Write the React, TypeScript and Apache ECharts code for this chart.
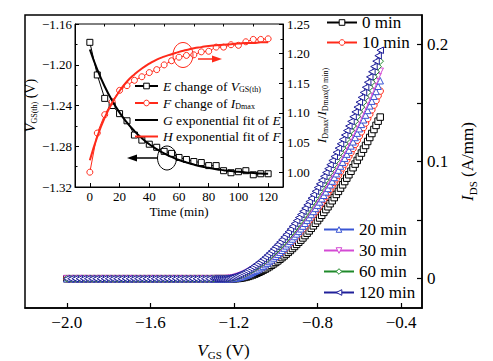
import React, { useEffect, useRef } from "react";
import * as echarts from "echarts";

const FONT = '"Liberation Serif", "Times New Roman", serif';

// ---------- main plot data: I_DS (A/mm) versus V_GS (V) ----------
// flat (off) region, shared by all curves
const vgsFlat = [
  -2.0, -1.98, -1.96, -1.94, -1.92, -1.9, -1.88, -1.86, -1.84, -1.82,
  -1.8, -1.78, -1.76, -1.74, -1.72, -1.7, -1.68, -1.66, -1.64, -1.62,
  -1.6, -1.58, -1.56, -1.54, -1.52, -1.5, -1.48, -1.46, -1.44, -1.42,
  -1.4, -1.38, -1.36, -1.34, -1.32, -1.3,
];
const idsFlat = [
  0, 0, 0, 0, 0, 0, 0, 0, 0, 0,
  0, 0, 0, 0, 0, 0, 0, 0, 0, 0,
  0, 0, 0, 0, 0, 0, 0, 0, 0, 0,
  0, 0, 0, 0, 0, 0,
];
// turn-on region
const vgsRise = [
  -1.29, -1.28, -1.27, -1.26, -1.25, -1.24, -1.23, -1.22, -1.21, -1.2,
  -1.19, -1.18, -1.17, -1.16, -1.15, -1.14, -1.13, -1.12, -1.11, -1.1,
  -1.09, -1.08, -1.07, -1.06, -1.05, -1.04, -1.03, -1.02, -1.01, -1.0,
  -0.99, -0.98, -0.97, -0.96, -0.95, -0.94, -0.93, -0.92, -0.91, -0.9,
  -0.89, -0.88, -0.87, -0.86, -0.85, -0.84, -0.83, -0.82, -0.81, -0.8,
  -0.79, -0.78, -0.77, -0.76, -0.75, -0.74, -0.73, -0.72, -0.71, -0.7,
  -0.69, -0.68, -0.67, -0.66, -0.65, -0.64, -0.63, -0.62, -0.61, -0.6,
  -0.59, -0.58, -0.57, -0.56, -0.55, -0.54, -0.53, -0.52, -0.51, -0.5,
];

const rise0min = [
  0, 0, 0, 0, 0, 0, 0, 0, 0, 0,
  0.0001, 0.0002, 0.0004, 0.0007, 0.0011, 0.0015, 0.002, 0.0026, 0.0032, 0.0039,
  0.0047, 0.0055, 0.0063, 0.0073, 0.0082, 0.0093, 0.0103, 0.0115, 0.0127, 0.0139,
  0.0152, 0.0166, 0.018, 0.0195, 0.021, 0.0225, 0.0241, 0.0258, 0.0275, 0.0293,
  0.0311, 0.0329, 0.0348, 0.0368, 0.0388, 0.0408, 0.043, 0.0451, 0.0473, 0.0495,
  0.0518, 0.0541, 0.0566, 0.059, 0.0614, 0.064, 0.0665, 0.0692, 0.0719, 0.0745,
  0.0773, 0.0801, 0.0829, 0.0858, 0.0887, 0.0917, 0.0947, 0.0978, 0.1009, 0.104,
  0.1072, 0.1105, 0.1137, 0.1171, 0.1205, 0.1239, 0.1273, 0.1308, 0.1344, 0.1379,
];

const rise10min = [
  0, 0, 0, 0, 0, 0, 0, 0,
  0.0001, 0.0002, 0.0005, 0.0008, 0.0012, 0.0017, 0.0023, 0.0029, 0.0036, 0.0043,
  0.0051, 0.006, 0.007, 0.008, 0.0091, 0.0102, 0.0114, 0.0127, 0.014, 0.0154,
  0.0168, 0.0183, 0.0198, 0.0214, 0.0231, 0.0248, 0.0266, 0.0284, 0.0303, 0.0323,
  0.0343, 0.0363, 0.0384, 0.0406, 0.0427, 0.045, 0.0474, 0.0497, 0.0521, 0.0546,
  0.0571, 0.0597, 0.0623, 0.065, 0.0677, 0.0705, 0.0733, 0.0762, 0.0792, 0.0821,
  0.0852, 0.0882, 0.0914, 0.0945, 0.0978, 0.1011, 0.1044, 0.1077, 0.1111, 0.1146,
  0.1181, 0.1217, 0.1253, 0.129, 0.1328, 0.1366, 0.1403, 0.1441, 0.1481, 0.152,
  0.1561, 0.1601,
];

const rise20min = [
  0, 0, 0, 0, 0, 0, 0, 0,
  0.0001, 0.0002, 0.0005, 0.0008, 0.0013, 0.0018, 0.0024, 0.003, 0.0037, 0.0045,
  0.0054, 0.0063, 0.0073, 0.0084, 0.0095, 0.0107, 0.012, 0.0133, 0.0147, 0.0161,
  0.0177, 0.0192, 0.0208, 0.0225, 0.0243, 0.0261, 0.028, 0.0299, 0.0319, 0.0339,
  0.036, 0.0382, 0.0404, 0.0426, 0.0449, 0.0473, 0.0498, 0.0522, 0.0548, 0.0574,
  0.06, 0.0627, 0.0655, 0.0683, 0.0712, 0.0741, 0.0771, 0.0802, 0.0833, 0.0864,
  0.0896, 0.0927, 0.0961, 0.0994, 0.1028, 0.1063, 0.1097, 0.1133, 0.1168, 0.1205,
  0.1242, 0.128, 0.1317, 0.1356, 0.1396, 0.1436, 0.1475, 0.1515, 0.1557, 0.1598,
  0.1642, 0.1689,
];

const rise30min = [
  0, 0, 0, 0, 0, 0,
  0.0001, 0.0002, 0.0005, 0.0008, 0.0013, 0.0018, 0.0024, 0.003, 0.0037, 0.0045,
  0.0054, 0.0063, 0.0073, 0.0084, 0.0095, 0.0107, 0.012, 0.0133, 0.0147, 0.0161,
  0.0177, 0.0192, 0.0208, 0.0225, 0.0243, 0.0261, 0.028, 0.0299, 0.0319, 0.0339,
  0.036, 0.0382, 0.0404, 0.0426, 0.0449, 0.0473, 0.0498, 0.0522, 0.0548, 0.0574,
  0.06, 0.0627, 0.0655, 0.0683, 0.0712, 0.0741, 0.0771, 0.0802, 0.0833, 0.0864,
  0.0896, 0.0927, 0.0961, 0.0994, 0.1028, 0.1063, 0.1097, 0.1133, 0.1168, 0.1205,
  0.1242, 0.128, 0.1317, 0.1356, 0.1396, 0.1436, 0.1475, 0.1515, 0.1557, 0.1598,
  0.1642, 0.1683, 0.1726, 0.177,
];

const rise60min = [
  0, 0, 0, 0, 0, 0,
  0.0001, 0.0003, 0.0005, 0.0009, 0.0013, 0.0019, 0.0025, 0.0032, 0.0039, 0.0048,
  0.0057, 0.0066, 0.0077, 0.0088, 0.01, 0.0113, 0.0126, 0.014, 0.0154, 0.0169,
  0.0185, 0.0202, 0.0219, 0.0236, 0.0255, 0.0274, 0.0293, 0.0313, 0.0334, 0.0356,
  0.0378, 0.04, 0.0423, 0.0447, 0.0471, 0.0496, 0.0522, 0.0548, 0.0575, 0.0602,
  0.063, 0.0658, 0.0687, 0.0717, 0.0746, 0.0778, 0.0809, 0.0841, 0.0873, 0.0906,
  0.0939, 0.0973, 0.1008, 0.1042, 0.1078, 0.1114, 0.1151, 0.1188, 0.1226, 0.1264,
  0.1303, 0.1342, 0.1382, 0.1423, 0.1464, 0.1506, 0.1547, 0.1589, 0.1633, 0.1676,
  0.1722, 0.1766, 0.181, 0.1856,
];

const rise120min = [
  0, 0, 0, 0,
  0.0001, 0.0003, 0.0005, 0.0009, 0.0013, 0.0019, 0.0025, 0.0032, 0.0039, 0.0048,
  0.0057, 0.0066, 0.0077, 0.0088, 0.01, 0.0113, 0.0126, 0.014, 0.0154, 0.0169,
  0.0185, 0.0202, 0.0219, 0.0236, 0.0255, 0.0274, 0.0293, 0.0313, 0.0334, 0.0356,
  0.0378, 0.04, 0.0423, 0.0447, 0.0471, 0.0496, 0.0522, 0.0548, 0.0575, 0.0602,
  0.063, 0.0658, 0.0687, 0.0717, 0.0746, 0.0778, 0.0809, 0.0841, 0.0873, 0.0906,
  0.0939, 0.0973, 0.1008, 0.1042, 0.1078, 0.1114, 0.1151, 0.1188, 0.1226, 0.1264,
  0.1303, 0.1342, 0.1382, 0.1423, 0.1464, 0.1506, 0.1547, 0.1589, 0.1633, 0.1676,
  0.1722, 0.1766, 0.181, 0.1856, 0.1903, 0.1949,
];

const mainNames = ["0 min", "10 min", "20 min", "30 min", "60 min", "120 min"];
const mainColors = ["#000000", "#ff2a1a", "#3a56d4", "#d44ad4", "#1f8a2a", "#20209a"];
const mainSymbols = ["rect", "circle", "triangle", "triangle", "diamond", "triangle"];
const mainRotations = [0, 0, 0, 180, 0, 90];
const mainRise = [rise0min, rise10min, rise20min, rise30min, rise60min, rise120min];

const xTicksMain = [-2.0, -1.6, -1.2, -0.8, -0.4];
const yLabelsMain = [0, 0.1, 0.2];
const yTicksMain = [0, 0.05, 0.1, 0.15, 0.2];

// ---------- inset data ----------
const timeMin = [0, 5, 10, 15, 20, 25, 30, 35, 40, 45, 50, 55, 60, 65, 70, 75, 80, 85, 90, 95, 100, 105, 110, 115, 120];
const vthChange = [
  -1.178, -1.21, -1.233, -1.24, -1.248, -1.255, -1.269, -1.274, -1.278, -1.281,
  -1.285, -1.287, -1.291, -1.293, -1.295, -1.296, -1.299, -1.299, -1.304, -1.306,
  -1.305, -1.304, -1.308, -1.307, -1.307,
];
const idmaxRatio = [
  1.0, 1.066, 1.097, 1.119, 1.138, 1.146, 1.155, 1.161, 1.168, 1.173,
  1.181, 1.188, 1.194, 1.197, 1.198, 1.203, 1.204, 1.211, 1.211, 1.215,
  1.214, 1.22, 1.224, 1.224, 1.225,
];
const vthFit = [
  -1.185, -1.2047, -1.2213, -1.2352, -1.247, -1.2568, -1.2651, -1.2721, -1.278, -1.2829,
  -1.2871, -1.2905, -1.2935, -1.2959, -1.298, -1.2998, -1.3012, -1.3025, -1.3035, -1.3044,
  -1.3051, -1.3057, -1.3062, -1.3067, -1.307,
];
const idmaxFit = [
  1.02, 1.06, 1.092, 1.117, 1.137, 1.153, 1.165, 1.175, 1.183, 1.19,
  1.195, 1.199, 1.203, 1.206, 1.209, 1.211, 1.213, 1.214, 1.215, 1.216,
  1.217, 1.218, 1.218, 1.219, 1.219,
];
const insetTimeTicks = [0, 20, 40, 60, 80, 100, 120];
const insetTimeMinor = [10, 30, 50, 70, 90, 110];
const ratioTicks = [1.0, 1.05, 1.1, 1.15, 1.2, 1.25];
const ratioMinor = [1.025, 1.075, 1.125, 1.175, 1.225];

const insetLegend: Record<string, string> = {
  E: "{i|E} change of {i|V}{s|GS(th)}",
  F: "{i|F} change of {i|I}{s|Dmax}",
  G: "{i|G} exponential fit of {i|E}",
  H: "{i|H} exponential fit of {i|F}",
};

const minus = (s: string) => s.replace("-", "\u2212");

function richFor(size: number, sub: number, pad: number) {
  return {
    i: { fontStyle: "italic", fontSize: size, fontFamily: FONT, color: "#000" },
    s: { fontSize: sub, fontFamily: FONT, color: "#000", verticalAlign: "bottom", padding: [pad, 0, 0, 0] },
  };
}

export default function App() {
  const ref = useRef<HTMLDivElement>(null);
  useEffect(() => {
    document.body.style.margin = "0";
    const chart = echarts.init(ref.current!, null, { renderer: "svg" });

    const vgsAll = [...vgsFlat, ...vgsRise];
    const mainSeries = mainNames.map((name, k) => {
      const ids = [...idsFlat, ...mainRise[k]];
      return {
        name,
        type: "line",
        xAxisIndex: 0,
        yAxisIndex: 0,
        data: vgsAll.map((v, i) => [v, ids[i]]),
        symbol: mainSymbols[k],
        symbolRotate: mainRotations[k],
        symbolSize: 6.5,
        showAllSymbol: true,
        lineStyle: { color: mainColors[k], width: 1 },
        itemStyle: { color: "#fff", borderColor: mainColors[k], borderWidth: 1 },
        z: 2 + k,
      };
    });

    const red = "#ff2a1a";
    const insetSeries = [
      {
        name: "E", type: "line", xAxisIndex: 1, yAxisIndex: 1,
        data: timeMin.map((t, i) => [t, vthChange[i]]),
        symbol: "rect", symbolSize: 6,
        lineStyle: { color: "#000", width: 1 }, itemStyle: { color: "#fff", borderColor: "#000", borderWidth: 1 }, z: 10,
      },
      {
        name: "F", type: "line", xAxisIndex: 1, yAxisIndex: 2,
        data: timeMin.map((t, i) => [t, idmaxRatio[i]]),
        symbol: "circle", symbolSize: 6,
        lineStyle: { color: red, width: 1 }, itemStyle: { color: "#fff", borderColor: red, borderWidth: 1 }, z: 10,
      },
      {
        name: "G", type: "line", xAxisIndex: 1, yAxisIndex: 1, smooth: true,
        data: timeMin.map((t, i) => [t, vthFit[i]]),
        symbol: "none", lineStyle: { color: "#000", width: 2 }, itemStyle: { color: "#000" }, z: 11,
      },
      {
        name: "H", type: "line", xAxisIndex: 1, yAxisIndex: 2, smooth: true,
        data: timeMin.map((t, i) => [t, idmaxFit[i]]),
        symbol: "none", lineStyle: { color: red, width: 2 }, itemStyle: { color: red }, z: 11,
      },
    ];

    const black = { color: "#000" };
    const hidden = { color: "rgba(0,0,0,0)", borderColor: "rgba(0,0,0,0)", opacity: 0 };

    chart.setOption({
      animation: false,
      backgroundColor: "#fff",
      textStyle: { fontFamily: FONT },
      grid: [
        { left: 25, top: 15, width: 397, height: 293, show: true, borderColor: "#000", borderWidth: 1.5, backgroundColor: "transparent", outerBoundsMode: "none", containLabel: false },
        { left: 75, top: 24, width: 208, height: 163, show: true, borderColor: "#000", borderWidth: 1, backgroundColor: "#fff", z: 1, outerBoundsMode: "none", containLabel: false },
      ],
      xAxis: [
        {
          gridIndex: 0, type: "value", min: -2.2, max: -0.3,
          axisLine: { onZero: false, lineStyle: { color: "#000", width: 1.5 } },
          axisTick: { inside: true, length: 5, customValues: xTicksMain, lineStyle: { color: "#000", width: 1.2 } },
          axisLabel: { customValues: xTicksMain, formatter: (v: number) => minus(v.toFixed(1)), color: "#000", fontSize: 17, fontFamily: FONT, margin: 6 },
          splitLine: { show: false },
          name: "{i|V}{s|GS} (V)", nameLocation: "middle", nameGap: 32,
          nameTextStyle: { fontSize: 17, fontFamily: FONT, color: "#000", rich: richFor(17, 11, 9) },
        },
        {
          gridIndex: 1, type: "value", min: -10, max: 130,
          axisLine: { onZero: false, lineStyle: { color: "#000", width: 1 } },
          axisTick: { inside: true, length: 4, customValues: insetTimeTicks, lineStyle: black },
          axisLabel: { customValues: insetTimeTicks, color: "#000", fontSize: 13, fontFamily: FONT, margin: 3 },
          splitLine: { show: false },
          name: "Time (min)", nameLocation: "middle", nameGap: 18,
          nameTextStyle: { fontSize: 13, fontFamily: FONT, color: "#000" },
          z: 5,
        },
        {
          gridIndex: 1, type: "value", min: -10, max: 130,
          axisLine: { show: false, onZero: false },
          axisTick: { inside: true, length: 2.5, customValues: insetTimeMinor, lineStyle: black },
          axisLabel: { show: false },
          splitLine: { show: false },
          z: 5,
        },
      ],
      yAxis: [
        {
          gridIndex: 0, type: "value", position: "right", min: -0.025, max: 0.225,
          axisLine: { show: true, onZero: false, lineStyle: { color: "#000", width: 1.5 } },
          axisTick: { show: true, inside: true, length: 5, customValues: yTicksMain, lineStyle: { color: "#000", width: 1.2 } },
          axisLabel: { customValues: yLabelsMain, formatter: (v: number) => (v === 0 ? "0" : v.toFixed(1)), color: "#000", fontSize: 17, fontFamily: FONT, margin: 5 },
          splitLine: { show: false },
          name: "{i|I}{s|DS} (A/mm)", nameLocation: "middle", nameRotate: 90, nameGap: 27,
          nameTextStyle: { fontSize: 17, fontFamily: FONT, color: "#000", rich: richFor(17, 11, 10) },
        },
        {
          gridIndex: 1, type: "value", min: -1.32, max: -1.16, interval: 0.04,
          axisLine: { show: true, onZero: false, lineStyle: { color: "#000", width: 1 } },
          axisTick: { show: true, inside: true, length: 4, lineStyle: black },
          minorTick: { show: true, splitNumber: 2, length: 2.5, lineStyle: black },
          axisLabel: { formatter: (v: number) => minus(v.toFixed(2)), color: "#000", fontSize: 13, fontFamily: FONT, margin: 3 },
          splitLine: { show: false },
          name: "{i|V}{s|GS(th)} (V)", nameLocation: "middle", nameRotate: 90, nameGap: 36,
          nameTextStyle: { fontSize: 14, fontFamily: FONT, color: "#000", rich: richFor(14, 8, 8) },
          z: 5,
        },
        {
          gridIndex: 1, type: "value", position: "right", min: 0.975, max: 1.25,
          axisLine: { show: true, onZero: false, lineStyle: { color: "#000", width: 1 } },
          axisTick: { show: true, inside: true, length: 4, customValues: ratioTicks, lineStyle: black },
          axisLabel: { customValues: ratioTicks, formatter: (v: number) => v.toFixed(2), color: "#000", fontSize: 13, fontFamily: FONT, margin: 4 },
          splitLine: { show: false },
          name: "{i|I}{s|Dmax}/{i|I}{s|Dmax(0 min)}", nameLocation: "middle", nameRotate: 90, nameGap: 30,
          nameTextStyle: { fontSize: 13, fontFamily: FONT, color: "#000", rich: richFor(13, 8, 8) },
          z: 5,
        },
        {
          gridIndex: 1, type: "value", position: "right", min: 0.975, max: 1.25,
          axisLine: { show: false, onZero: false },
          axisTick: { show: true, inside: true, length: 2.5, customValues: ratioMinor, lineStyle: black },
          axisLabel: { show: false },
          splitLine: { show: false },
          z: 5,
        },
      ],
      legend: [
        {
          data: ["E", "F", { name: "G", itemStyle: hidden }, { name: "H", itemStyle: hidden }],
          left: 134, top: 79, orient: "vertical",
          itemWidth: 23, itemHeight: 7, itemGap: 2.5, padding: 0,
          itemStyle: { borderWidth: 1 },
          formatter: (n: string) => insetLegend[n],
          textStyle: { fontSize: 13.5, fontFamily: FONT, color: "#000", rich: richFor(13.5, 8, 7) },
          z: 20,
        },
        {
          data: ["0 min", "10 min"], left: 326, top: 14, orient: "vertical",
          itemWidth: 30, itemHeight: 7, itemGap: 3, padding: 0,
          itemStyle: { borderWidth: 1 },
          textStyle: { fontSize: 17, fontFamily: FONT, color: "#000" },
        },
        {
          data: ["20 min", "30 min", "60 min", "120 min"], left: 323, top: 221, orient: "vertical",
          itemWidth: 30, itemHeight: 7, itemGap: 4, padding: 0,
          itemStyle: { borderWidth: 1 },
          textStyle: { fontSize: 17, fontFamily: FONT, color: "#000" },
        },
      ],
      graphic: [
        { type: "ellipse", shape: { cx: 183, cy: 55, rx: 10, ry: 12.5 }, style: { fill: "none", stroke: red, lineWidth: 1 }, z: 100 },
        { type: "line", shape: { x1: 198, y1: 59, x2: 213, y2: 59 }, style: { stroke: red, lineWidth: 1.5 }, z: 100 },
        { type: "polygon", shape: { points: [[222, 59], [212, 55.5], [212, 62.5]] }, style: { fill: red }, z: 100 },
        { type: "ellipse", shape: { cx: 167, cy: 158, rx: 9.5, ry: 12 }, style: { fill: "none", stroke: "#000", lineWidth: 1 }, z: 100 },
        { type: "line", shape: { x1: 136, y1: 158, x2: 157, y2: 158 }, style: { stroke: "#000", lineWidth: 1.5 }, z: 100 },
        { type: "polygon", shape: { points: [[127, 158], [137, 154.5], [137, 161.5]] }, style: { fill: "#000" }, z: 100 },
      ],
      series: [...mainSeries, ...insetSeries],
    });
    return () => chart.dispose();
  }, []);
  return <div ref={ref} style={{ width: 493, height: 361 }} />;
}
